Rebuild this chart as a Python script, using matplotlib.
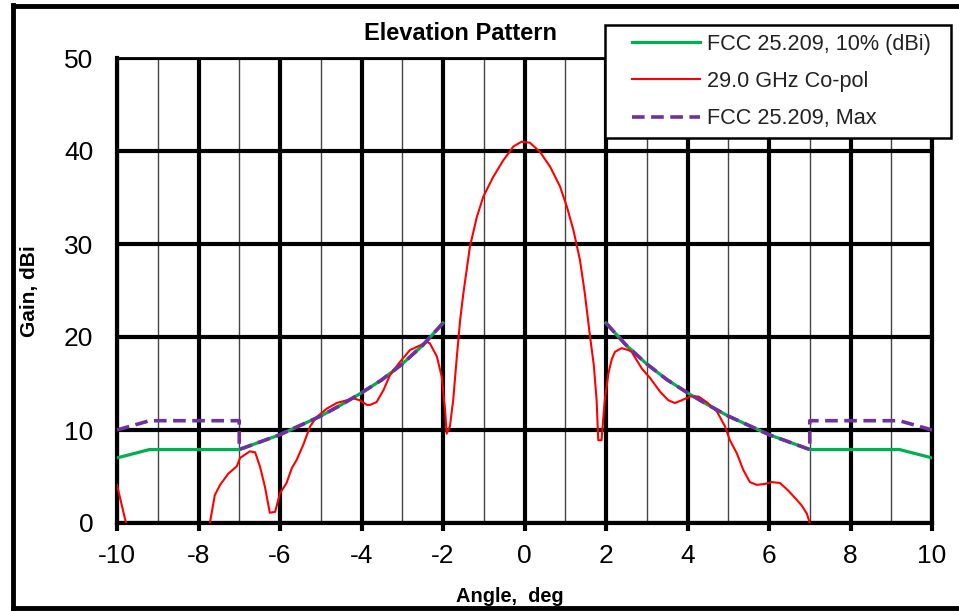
import numpy as np
import matplotlib
matplotlib.use("Agg")
import matplotlib.pyplot as plt
from matplotlib.ticker import MultipleLocator
from matplotlib.lines import Line2D
from matplotlib.legend_handler import HandlerLine2D

plt.rcParams['font.family'] = ['Liberation Sans', 'DejaVu Sans']

nan = np.nan
# FCC 25.209, 10% (dBi)
fcc10_angle = [-10, -9.2, -7, -6.5, -6, -5.5, -5, -4.5, -4, -3.5, -3, -2.5, -2,
               nan,
               2, 2.5, 3, 3.5, 4, 4.5, 5, 5.5, 6, 6.5, 7, 9.2, 10]
fcc10_gain = [7.0, 7.9, 7.9, 8.7, 9.5, 10.5, 11.5, 12.7, 14.0, 15.4, 17.1, 19.1, 21.5,
              nan,
              21.5, 19.1, 17.1, 15.4, 14.0, 12.7, 11.5, 10.5, 9.5, 8.7, 7.9, 7.9, 7.0]

# FCC 25.209, Max
fccmax_angle = [-10, -9.2, -7, -7, -6.5, -6, -5.5, -5, -4.5, -4, -3.5, -3, -2.5, -2,
                nan,
                2, 2.5, 3, 3.5, 4, 4.5, 5, 5.5, 6, 6.5, 7, 7, 9.2, 10]
fccmax_gain = [10.0, 11.0, 11.0, 7.9, 8.7, 9.5, 10.5, 11.5, 12.7, 14.0, 15.4, 17.1, 19.1, 21.5,
               nan,
               21.5, 19.1, 17.1, 15.4, 14.0, 12.7, 11.5, 10.5, 9.5, 8.7, 7.9, 11.0, 11.0, 10.0]

# 29.0 GHz Co-pol
copol_angle = [-10.0, -9.78, nan,
               -7.72, -7.6, -7.47, -7.27, -7.06, -6.98, -6.74, -6.61, -6.49, -6.37, -6.25,
               -6.12, -6.0, -5.84, -5.71, -5.59, -5.43, -5.26, -5.1, -4.85, -4.61, -4.36,
               -4.2, -4.04, -3.87, -3.79, -3.63, -3.46, -3.3, -3.06, -2.81, -2.56, -2.4,
               -2.32, -2.15, -2.03, -1.95, -1.91, -1.83, -1.75, -1.66, -1.58, -1.5, -1.34,
               -1.17, -1.01, -0.77, -0.52, -0.27, -0.07, 0.13, 0.38, 0.63, 0.87, 1.04, 1.2,
               1.36, 1.48, 1.61, 1.7, 1.77, 1.81, 1.89, 1.97, 2.06, 2.14, 2.22, 2.38, 2.55,
               2.63, 2.88, 3.08, 3.33, 3.53, 3.69, 3.86, 4.06, 4.27, 4.47, 4.72, 4.92, 5.04,
               5.21, 5.37, 5.53, 5.7, 5.9, 6.07, 6.27, 6.47, 6.68, 6.8, 6.93, 7.0]
copol_gain = [4.1, 0.0, nan,
              0.0, 3.0, 4.1, 5.3, 6.1, 7.0, 7.7, 7.6, 6.05, 3.9, 1.1,
              1.2, 3.2, 4.3, 5.9, 6.8, 8.4, 10.4, 11.4, 12.3, 12.9, 13.2,
              13.4, 13.2, 12.7, 12.7, 13.0, 14.3, 15.9, 17.3, 18.6, 19.1, 19.5,
              19.3, 17.9, 15.7, 12.2, 9.6, 10.4, 13.2, 17.9, 21.8, 24.7, 29.7,
              32.9, 35.1, 37.2, 39.0, 40.5, 41.0, 40.9, 39.9, 38.3, 36.2, 34.0, 31.5,
              28.3, 24.7, 20.0, 17.0, 13.2, 8.9, 8.9, 13.2, 16.1, 17.6, 18.4, 18.8, 18.6,
              18.4, 16.6, 15.6, 14.1, 13.2, 12.9, 13.2, 13.6, 13.6, 13.0, 12.0, 10.4, 8.9,
              7.5, 5.7, 4.4, 4.1, 4.2, 4.4, 4.3, 3.5, 2.5, 1.9, 1.0, 0.0]

x_ticks = [-10, -8, -6, -4, -2, 0, 2, 4, 6, 8, 10]
y_ticks = [0, 10, 20, 30, 40, 50]


class ShiftedLineHandler(HandlerLine2D):
    """Legend line handle that starts a bit to the right inside its box."""
    def __init__(self, shift=0.85, **kw):
        super().__init__(**kw)
        self.shift = shift

    def create_artists(self, legend, orig_handle, xdescent, ydescent, width, height,
                       fontsize, trans):
        s = self.shift * fontsize
        return super().create_artists(legend, orig_handle, xdescent - s, ydescent,
                                      width - s, height, fontsize, trans)


W, H = 959, 611
fig = plt.figure(figsize=(W / 100, H / 100), dpi=100)
ax = fig.add_axes([117 / W, (H - 523) / H, (932 - 117) / W, (523 - 58) / H])

l1, = ax.plot(fcc10_angle, fcc10_gain, color='#00B050', lw=2.3, label='FCC 25.209, 10% (dBi)', zorder=3)
l2, = ax.plot(copol_angle, copol_gain, color='#FF0000', lw=1.5, label='29.0 GHz Co-pol', zorder=4)
l3, = ax.plot(fccmax_angle, fccmax_gain, color='#7030A0', lw=2.6, ls=(0, (3.5, 1.8)),
              label='FCC 25.209, Max', zorder=5)

ax.set_xlim(-10, 10)
ax.set_ylim(0, 50)
ax.set_xticks(x_ticks)
ax.set_xticklabels([str(t) for t in x_ticks])
ax.set_yticks(y_ticks)
ax.set_yticklabels([str(t) for t in y_ticks])
ax.xaxis.set_minor_locator(MultipleLocator(1))

ax.grid(True, which='major', axis='both', color='black', lw=3.0, zorder=1)
ax.grid(True, which='minor', axis='x', color='#444444', lw=1.0, zorder=1)
ax.set_axisbelow(True)

ax.tick_params(axis='x', which='major', length=6, width=3, direction='out',
               labelsize=19, pad=9, color='black')
ax.tick_params(axis='x', which='minor', length=0)
ax.tick_params(axis='y', which='major', length=0, labelsize=19, pad=17)

for s in ['left', 'bottom', 'right']:
    ax.spines[s].set_linewidth(3.0)
    ax.spines[s].set_color('black')
ax.spines['top'].set_linewidth(2.0)

fig.text(461 / W, 1 - 33 / H, 'Elevation Pattern', ha='center', va='center',
         fontsize=17, fontweight='bold')
fig.text(30 / W, 1 - 291 / H, 'Gain, dBi', ha='center', va='center', rotation=90,
         fontsize=15, fontweight='bold')
fig.text(510 / W, 1 - 596 / H, 'Angle,  deg', ha='center', va='center',
         fontsize=14.4, fontweight='bold')

hmap = {l: ShiftedLineHandler(shift=0.85) for l in (l1, l2, l3)}
leg = fig.legend(handles=[l1, l2, l3], loc='upper left',
                 bbox_to_anchor=(605 / W, 1 - 138 / H, (951 - 605) / W, (138 - 25) / H),
                 mode='expand', fontsize=15.6, frameon=True, fancybox=False,
                 handlelength=3.98, handletextpad=0.32, labelspacing=0.75,
                 borderaxespad=0, borderpad=0.4, handler_map=hmap)
leg.get_frame().set_edgecolor('black')
leg.get_frame().set_linewidth(1.8)
leg.get_frame().set_alpha(1)
for t in leg.get_texts():
    t.set_color('#222222')

# figure border
for xs, ys in [([13 / W, 13 / W], [1 - 5 / H, 1 - 608 / H]),
               ([13 / W, 1.01], [1 - 6 / H, 1 - 6 / H]),
               ([13 / W, 1.01], [1 - 608 / H, 1 - 608 / H])]:
    fig.add_artist(Line2D(xs, ys, transform=fig.transFigure, color='black', lw=3.5))

fig.savefig('out.png', dpi=100)
